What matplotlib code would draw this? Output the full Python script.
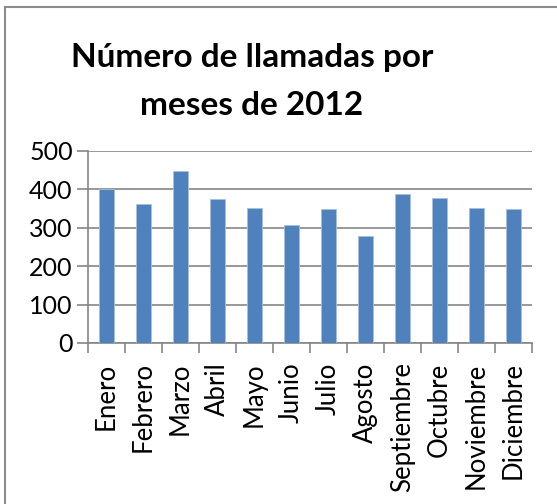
import numpy as np
import matplotlib
matplotlib.use("Agg")
from matplotlib import pyplot as plt
from matplotlib.lines import Line2D

meses = ["Enero", "Febrero", "Marzo", "Abril", "Mayo", "Junio", "Julio",
         "Agosto", "Septiembre", "Octubre", "Noviembre", "Diciembre"]
llamadas = [402, 362, 449, 374, 352, 308, 348, 279, 387, 377, 351, 348]
y_ticks = [0, 100, 200, 300, 400, 500]

plt.rcParams['font.family'] = ['Lato', 'DejaVu Sans']

W, H = 557, 504
fig = plt.figure(figsize=(W/100, H/100), dpi=100, facecolor='white')
ax = fig.add_axes([88/W, 1 - 343/H, (532 - 88)/W, (343 - 151)/H])

x = np.arange(len(meses))
ax.bar(x, llamadas, width=0.4, color='#4F81BD', edgecolor='#A7C0DE',
       linewidth=0.6, zorder=3)

ax.set_xlim(-0.5, len(meses) - 0.5)
ax.set_ylim(0, 500)
ax.set_yticks(y_ticks)
ax.set_yticklabels([str(v) for v in y_ticks], fontsize=18)
ax.yaxis.grid(True, color='#868686', linewidth=1.2, zorder=0)

ax.set_xticks(x)
ax.set_xticklabels(meses, rotation=90, fontsize=18.5, va='top', ha='center')
ax.set_xticks(np.arange(-0.5, len(meses)), minor=True)
ax.tick_params(axis='x', which='major', length=0, pad=14)
ax.tick_params(axis='x', which='minor', length=7, width=1.2, color='#868686',
               direction='out')
ax.tick_params(axis='y', length=8, width=1.2, color='#868686', pad=3,
               direction='out')

for side in ['top', 'right']:
    ax.spines[side].set_visible(False)
for side in ['left', 'bottom']:
    ax.spines[side].set_color('#868686')
    ax.spines[side].set_linewidth(1.2)

fig.text(252/W, 1 - 67/H, "Número de llamadas por", ha='center',
         va='baseline', fontsize=24, fontweight='bold')
fig.text(252/W, 1 - 115/H, "meses de 2012", ha='center',
         va='baseline', fontsize=24, fontweight='bold')

# chart border (only left and top visible in the crop)
fig.add_artist(Line2D([5/W, 5/W], [0, 1 - 7/H], color='#8c8c8c', linewidth=1.5))
fig.add_artist(Line2D([5/W, 1], [1 - 7/H, 1 - 7/H], color='#8c8c8c', linewidth=1.5))

fig.savefig("out.png", dpi=100, facecolor='white')
